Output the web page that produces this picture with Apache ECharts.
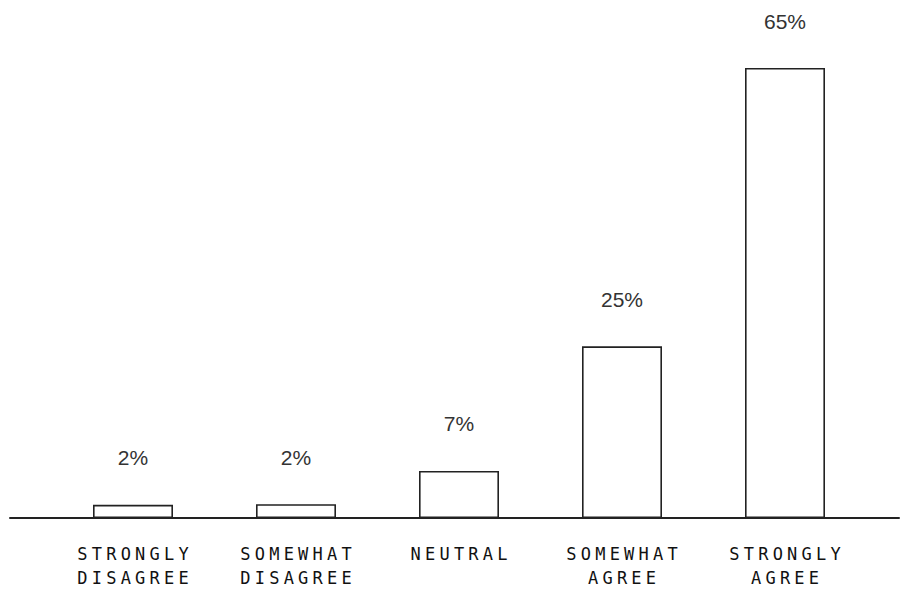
<!DOCTYPE html>
<html>
<head>
<meta charset="utf-8">
<script src="https://cdn.jsdelivr.net/npm/echarts@6/dist/echarts.min.js"></script>
<style>
html,body{margin:0;padding:0;background:#fff;}
#c{width:901px;height:590px;}
#c text[style*="Mono"]{letter-spacing:4.2px;}
</style>
</head>
<body>
<div id="c"></div>
<script>
const categories = ['STRONGLY\nDISAGREE', 'SOMEWHAT\nDISAGREE', 'NEUTRAL', 'SOMEWHAT\nAGREE', 'STRONGLY\nAGREE'];
const values = [1.9, 2.0, 6.8, 24.8, 65];

const chart = echarts.init(document.getElementById('c'), null, {renderer: 'svg'});
chart.setOption({
  animation: false,
  backgroundColor: '#fff',
  grid: [
    {left: 51.5, right: 34.5, top: 68, bottom: 72},
    {left: 10, right: 2, top: 68, bottom: 72}
  ],
  xAxis: [
    {
      type: 'category', data: categories, gridIndex: 0,
      axisLine: {show: false}, axisTick: {show: false},
      axisLabel: {
        margin: 24, fontFamily: 'DejaVu Sans Mono', fontSize: 17, lineHeight: 24,
        color: '#111', interval: 0, padding: [0, 0, 0, 4.2]
      }
    },
    {
      type: 'value', gridIndex: 1, min: 0, max: 1,
      axisLine: {show: true, lineStyle: {color: '#222', width: 2}},
      axisTick: {show: false}, axisLabel: {show: false}, splitLine: {show: false}
    }
  ],
  yAxis: [
    {type: 'value', gridIndex: 0, min: 0, max: 65, show: false},
    {type: 'value', gridIndex: 1, min: 0, max: 1, show: false}
  ],
  series: [{
    type: 'bar', xAxisIndex: 0, yAxisIndex: 0,
    data: values, barWidth: 80,
    itemStyle: {color: '#fff', borderColor: '#222', borderWidth: 1.6},
    label: {
      show: true, position: 'top', distance: 36.5,
      fontFamily: 'Liberation Sans', fontSize: 21, color: '#333',
      formatter: p => Math.round(p.value) + '%'
    }
  }]
});
</script>
</body>
</html>
